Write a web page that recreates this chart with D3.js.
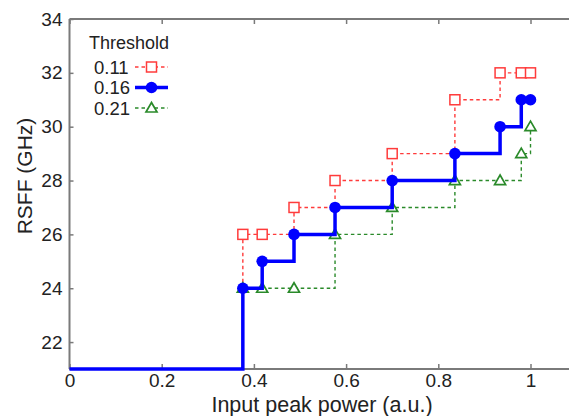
<!DOCTYPE html>
<html>
<head>
<meta charset="utf-8">
<script src="https://cdn.jsdelivr.net/npm/d3@7"></script>
<style>
  body { margin: 0; background: #fff; }
  text { font-family: "Liberation Sans", Arial, sans-serif; fill: #222; }
</style>
</head>
<body>
<svg id="svg" width="569" height="416"></svg>
<script>
// input peak power positions where the steps happen
const power = [0.376, 0.418, 0.487, 0.576, 0.700, 0.836, 0.934, 0.980, 1.0]
// RSFF per threshold
const rsff011 = [26, 26, 27, 28, 29, 31, 32, 32, 32]
const rsff016 = [24, 25, 26, 27, 28, 29, 30, 31, 31]
const rsff021 = [24, 24, 24, 26, 27, 28, 28, 29, 30]
const thresholds = ['0.11', '0.16', '0.21']
const xTicks = [0, 0.2, 0.4, 0.6, 0.8, 1]
const yTicks = [22, 24, 26, 28, 30, 32, 34]

const svg = d3.select('#svg')
const padL = 69.5, padT = 19, padB = 369

const x = d3.scaleLinear().domain([0, 1]).range([padL, 530.5])
const y = d3.scaleLinear().domain([21, 34]).range([padB, padT])
const xMax = 1.1

// frame
const spine = '#7a7a7a'
svg.append('line').attr('x1', padL).attr('x2', x(xMax)).attr('y1', padT).attr('y2', padT)
    .attr('stroke', spine).attr('stroke-width', 2)
svg.append('line').attr('x1', padL).attr('x2', x(xMax)).attr('y1', padB).attr('y2', padB)
    .attr('stroke', spine).attr('stroke-width', 2)
svg.append('line').attr('x1', padL).attr('x2', padL).attr('y1', padT).attr('y2', padB)
    .attr('stroke', spine).attr('stroke-width', 2)

// ticks pointing inward
const xAxis = svg.append('g').attr('transform', `translate(0,${padB})`)
    .call(d3.axisBottom(x).tickValues(xTicks).tickSize(-5).tickPadding(5).tickFormat(d3.format('')))
const xTop = svg.append('g').attr('transform', `translate(0,${padT})`)
    .call(d3.axisTop(x).tickValues(xTicks).tickSize(-5).tickFormat(''))
const yAxis = svg.append('g').attr('transform', `translate(${padL},0)`)
    .call(d3.axisLeft(y).tickValues(yTicks).tickSize(-4).tickPadding(7))
;[xAxis, xTop, yAxis].forEach(g => {
    g.select('.domain').remove()
    g.selectAll('.tick line').attr('stroke', spine).attr('stroke-width', 1.5)
    g.selectAll('text').style('font-size', '19px').attr('fill', '#222')
})

svg.append('text').attr('x', 322).attr('y', 412).attr('text-anchor', 'middle')
    .style('font-size', '21.5px').text('Input peak power (a.u.)')
svg.append('text').attr('transform', 'translate(32,176) rotate(-90)').attr('text-anchor', 'middle')
    .style('font-size', '21px').text('RSFF (GHz)')

const series = [
    { name: thresholds[0], vals: rsff011, color: '#ff3b3b', width: 1.4, dash: '3.5,3', mark: 'square' },
    { name: thresholds[2], vals: rsff021, color: '#2a8a2a', width: 1.4, dash: '3.5,3', mark: 'triangle' },
    { name: thresholds[1], vals: rsff016, color: '#0000ff', width: 3.5, dash: null, mark: 'circle' }
]

const line = d3.line().x(d => x(d[0])).y(d => y(d[1])).curve(d3.curveStepAfter)

const drawMark = (g, kind, color, cx, cy) => {
    if (kind === 'square') {
        g.append('rect').attr('x', cx - 5).attr('y', cy - 5).attr('width', 10).attr('height', 10)
            .attr('fill', '#fff').attr('stroke', color).attr('stroke-width', 1.5)
    } else if (kind === 'triangle') {
        g.append('path').attr('d', `M${cx},${cy - 5.5}L${cx + 5.5},${cy + 4}L${cx - 5.5},${cy + 4}Z`)
            .attr('fill', '#fff').attr('stroke', color).attr('stroke-width', 1.7)
    } else {
        g.append('circle').attr('cx', cx).attr('cy', cy).attr('r', 5.8).attr('fill', color)
    }
}

series.forEach(s => {
    const pts = [[0, 21]].concat(power.map((p, i) => [p, s.vals[i]]))
    const g = svg.append('g')
    g.append('path').attr('d', line(pts)).attr('fill', 'none')
        .attr('stroke', s.color).attr('stroke-width', s.width)
        .attr('stroke-dasharray', s.dash)
    power.forEach((p, i) => drawMark(g, s.mark, s.color, x(p), y(s.vals[i])))
})

// legend
const leg = svg.append('g')
leg.append('text').attr('x', 89).attr('y', 49).style('font-size', '18px').text('Threshold')
const legOrder = [series[0], series[2], series[1]]
legOrder.forEach((s, i) => {
    const ly = 67 + i * 20.5
    leg.append('text').attr('x', 94).attr('y', ly + 6.5).style('font-size', '18.5px').text(s.name)
    leg.append('line').attr('x1', 135).attr('x2', 168).attr('y1', ly).attr('y2', ly)
        .attr('stroke', s.color).attr('stroke-width', s.width).attr('stroke-dasharray', s.dash)
    drawMark(leg, s.mark, s.color, 151.5, ly)
})
</script>
</body>
</html>
